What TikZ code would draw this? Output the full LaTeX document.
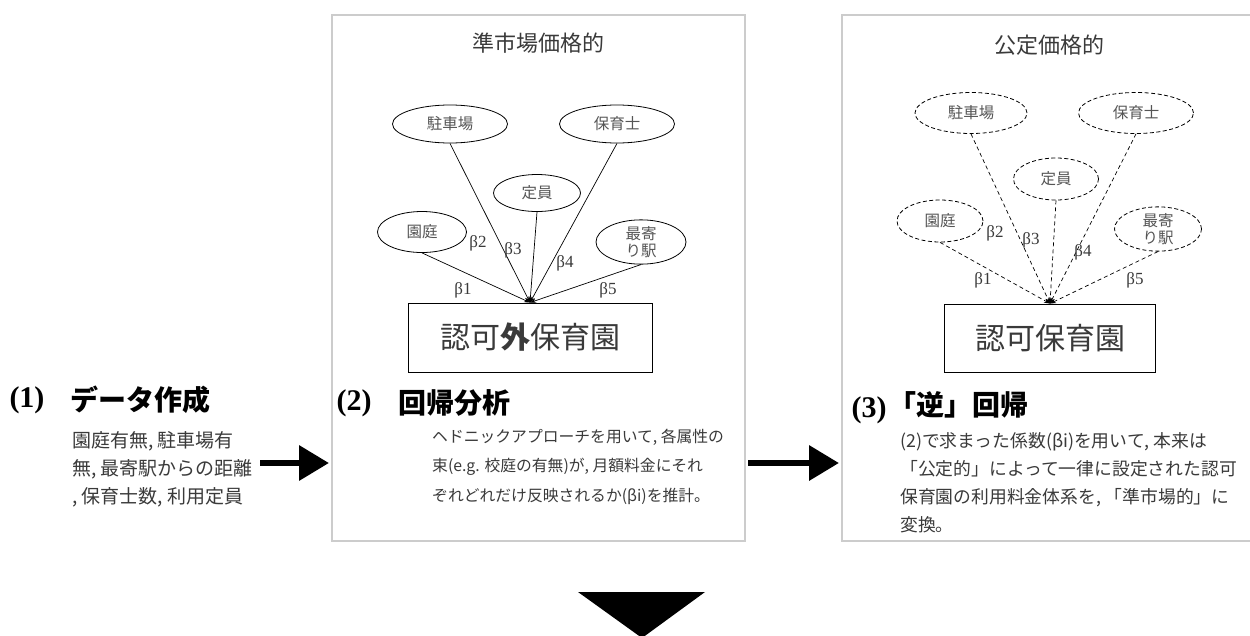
\documentclass[tikz,border=0pt]{standalone}
\usepackage{fontspec}
\setmainfont{Liberation Serif}
\newfontfamily\jp{Noto Sans CJK JP}
\usetikzlibrary{arrows.meta,shapes.geometric}
\definecolor{panelgray}{HTML}{CCCCCC}
\definecolor{txtgray}{HTML}{3A3A3A}
\definecolor{elgray}{HTML}{555555}
\begin{document}
\begin{tikzpicture}[x=1pt,y=-1pt,
  panel/.style={draw=panelgray,line width=1.3pt},
  attr/.style={draw,ellipse,inner sep=0pt,line width=0.8pt,align=center,
    font=\jp\fontsize{15.5}{17}\selectfont,text=elgray},
  attrd/.style={attr,dash pattern=on 4pt off 2.5pt},
  link/.style={line width=0.7pt,-{Stealth[length=6pt,width=4.5pt]}},
  linkd/.style={link,dash pattern=on 4pt off 3pt},
  beta/.style={inner sep=0pt,font=\fontsize{17}{19}\selectfont,text=txtgray},
  title/.style={inner sep=0pt,font=\jp\fontsize{22}{25}\selectfont,text=txtgray},
  facility/.style={draw,line width=0.9pt,inner sep=0pt,font=\jp\fontsize{30}{34}\selectfont,text=txtgray},
  num/.style={inner sep=0pt,font=\bfseries\fontsize{30}{34}\selectfont},
  head/.style={inner sep=0pt,anchor=west,font=\jp\bfseries\fontsize{28}{31}\selectfont},
  body/.style={inner sep=0pt,anchor=west,align=left,text=txtgray},
  bigarrow/.style={line width=6.5pt,-{Triangle[length=30pt,width=34pt]}}
]
\useasboundingbox (0,0) rectangle (1250,635);
\fill[white] (0,0) rectangle (1250,635);

% panels
\draw[panel] (332,15) rectangle (745,541);
\draw[panel] (1252,15) -- (842,15) -- (842,541) -- (1252,541);

% panel 2
\node[title] (t2) at (538,43) {準市場価格的};
\node[attr,minimum width=115pt,minimum height=38pt] (p2park) at (450,124) {駐車場};
\node[attr,minimum width=115pt,minimum height=38pt] (p2staff) at (617,124) {保育士};
\node[attr,minimum width=87pt,minimum height=37pt] (p2cap) at (537,193) {定員};
\node[attr,minimum width=89pt,minimum height=41pt] (p2yard) at (422,232) {園庭};
\node[attr,minimum width=90pt,minimum height=40pt] (p2stn) at (641,242) {最寄\\り駅};
\node[facility,minimum width=244pt,minimum height=69pt] (box2) at (530,337.5) {認可{\bfseries 外}保育園};
\draw[link] (p2yard.south) -- (box2.north);
\draw[link] (p2park.south) -- (box2.north);
\draw[link] (p2cap.south) -- (box2.north);
\draw[link] (p2staff.south) -- (box2.north);
\draw[link] (p2stn.south) -- (box2.north);
\node[beta] (b21) at (463,290) {β1};
\node[beta] (b22) at (478,243) {β2};
\node[beta] (b23) at (513,250) {β3};
\node[beta] (b24) at (565,263) {β4};
\node[beta] (b25) at (608,290) {β5};

% panel 3
\node[title] (t3) at (1049,45) {公定価格的};
\node[attrd,minimum width=112pt,minimum height=41pt] (p3park) at (971,113) {駐車場};
\node[attrd,minimum width=115pt,minimum height=41pt] (p3staff) at (1136,113) {保育士};
\node[attrd,minimum width=85pt,minimum height=42pt] (p3cap) at (1056,179) {定員};
\node[attrd,minimum width=86pt,minimum height=42pt] (p3yard) at (940,221) {園庭};
\node[attrd,minimum width=87pt,minimum height=42pt] (p3stn) at (1158,229) {最寄\\り駅};
\node[facility,minimum width=211pt,minimum height=68pt] (box3) at (1050,338) {認可保育園};
\draw[linkd] (p3yard.south) -- (box3.north);
\draw[linkd] (p3park.south) -- (box3.north);
\draw[linkd] (p3cap.south) -- (box3.north);
\draw[linkd] (p3staff.south) -- (box3.north);
\draw[linkd] (p3stn.south) -- (box3.north);
\node[beta] (b31) at (983,280) {β1};
\node[beta] (b32) at (995,233) {β2};
\node[beta] (b33) at (1031,240) {β3};
\node[beta] (b34) at (1083,252) {β4};
\node[beta] (b35) at (1135,280) {β5};

% step (1)
\node[num] (n1) at (27,400) {(1)};
\node[head] (h1) at (70,400) {データ作成};
\node[body,font=\jp\fontsize{19}{28}\selectfont] (d1) at (72,469) {園庭有無, 駐車場有\\無, 最寄駅からの距離\\, 保育士数, 利用定員};

% step (2)
\node[num] (n2) at (354,403) {(2)};
\node[head] (h2) at (398,403) {回帰分析};
\node[body,font=\jp\fontsize{15.8}{29.5}\selectfont] (d2) at (432,466.5) {ヘドニックアプローチを用いて, 各属性の\\束(e.g. 校庭の有無)が, 月額料金にそれ\\ぞれどれだけ反映されるか(βi)を推計。};

% step (3)
\node[num] (n3) at (869,410) {(3)};
\node[head] (h3) at (888,405) {「逆」回帰};
\node[body,font=\jp\fontsize{17.8}{28}\selectfont] (d3) at (900,483) {(2)で求まった係数(βi)を用いて, 本来は\\「公定的」によって一律に設定された認可\\保育園の利用料金体系を, 「準市場的」に\\変換。};

% arrows
\coordinate (a1s) at (260,463);
\coordinate (a1e) at (329,463);
\coordinate (a2s) at (748,463);
\coordinate (a2e) at (839,463);
\draw[bigarrow] (a1s) -- (a1e);
\draw[bigarrow] (a2s) -- (a2e);

% down triangle
\fill (578,592) -- (705,592) -- (642,638) -- cycle;
\end{tikzpicture}
\end{document}
